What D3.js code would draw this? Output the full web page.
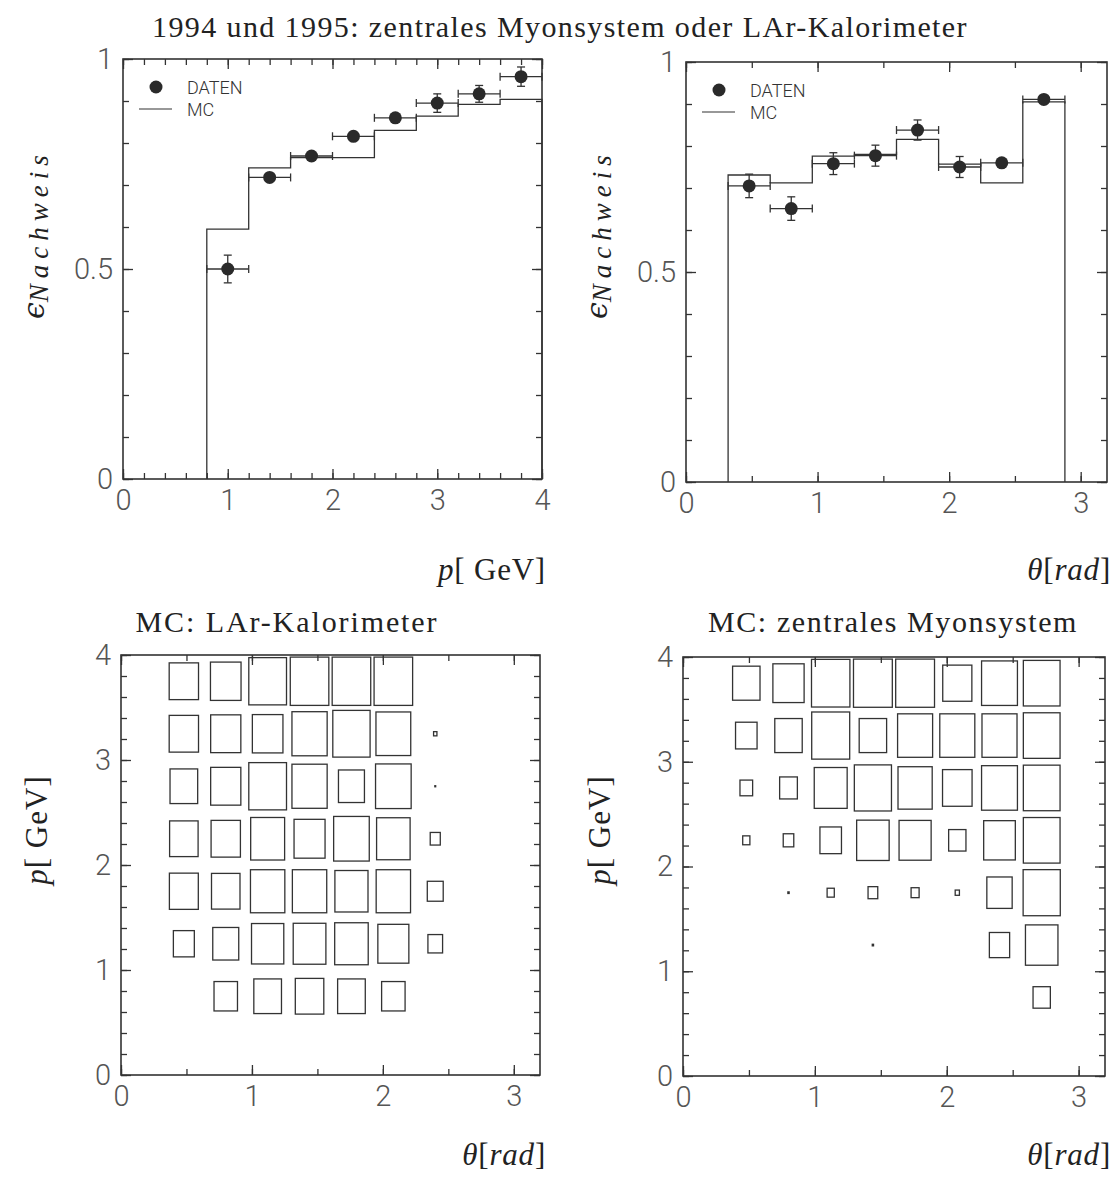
<!DOCTYPE html>
<html>
<head>
<meta charset="utf-8">
<script src="https://cdn.jsdelivr.net/npm/d3@7/dist/d3.min.js"></script>
<style>
body { margin: 0; background: #fff; }
svg { display: block; }
.serif { font-family: "Liberation Serif", "Times New Roman", serif; fill: #222; }
.tick text { font-family: Roboto, "Open Sans", sans-serif; font-weight: 300; font-size: 29px; fill: #555; }
.tick line { stroke: #333; stroke-width: 1.3; }
.legend { font-family: Roboto, "Open Sans", sans-serif; font-weight: 300; font-size: 18px; fill: #333; }
</style>
</head>
<body>
<svg width="1114" height="1181"></svg>
<script>
// efficiency vs momentum (top left)
const pBinEdges = [0.8, 1.2, 1.6, 2.0, 2.4, 2.8, 3.2, 3.6, 4.0];
const pDaten = [0.500, 0.718, 0.769, 0.816, 0.860, 0.895, 0.917, 0.958];
const pDatenErr = [0.033, 0.010, 0.008, 0.010, 0.010, 0.022, 0.020, 0.023];
const pMC = [0.595, 0.741, 0.765, 0.765, 0.830, 0.864, 0.892, 0.904];

// efficiency vs theta (top right)
const thetaBinEdges = [0.32, 0.64, 0.96, 1.28, 1.60, 1.92, 2.24, 2.56, 2.88];
const thetaDaten = [0.705, 0.651, 0.758, 0.777, 0.838, 0.750, 0.760, 0.911];
const thetaDatenErr = [0.028, 0.028, 0.026, 0.025, 0.024, 0.025, 0.010, 0.008];
const thetaMC = [0.731, 0.712, 0.776, 0.780, 0.816, 0.757, 0.712, 0.905];

// MC box plots: rows = p bins (0.5-1.0 ... 3.5-4.0), cols = theta bins, value = relative box size
const pRowEdges = [0.5, 1.0, 1.5, 2.0, 2.5, 3.0, 3.5, 4.0];
const larBoxes = [
  [0, 0.56, 0.66, 0.68, 0.66, 0.56, 0, 0],
  [0.50, 0.62, 0.77, 0.78, 0.80, 0.74, 0.35, 0],
  [0.69, 0.68, 0.82, 0.82, 0.79, 0.82, 0.38, 0],
  [0.68, 0.70, 0.81, 0.74, 0.85, 0.80, 0.24, 0],
  [0.66, 0.72, 0.90, 0.84, 0.62, 0.85, 0.02, 0],
  [0.70, 0.72, 0.73, 0.84, 0.89, 0.83, 0.08, 0],
  [0.70, 0.73, 0.90, 0.92, 0.92, 0.92, 0, 0]
];
const myonBoxes = [
  [0, 0, 0, 0, 0, 0, 0, 0.41],
  [0, 0, 0, 0.03, 0, 0, 0.48, 0.77],
  [0, 0.03, 0.17, 0.23, 0.19, 0.10, 0.60, 0.88],
  [0.17, 0.25, 0.51, 0.77, 0.76, 0.41, 0.75, 0.87],
  [0.30, 0.42, 0.78, 0.88, 0.81, 0.70, 0.85, 0.87],
  [0.51, 0.65, 0.90, 0.65, 0.83, 0.83, 0.83, 0.87],
  [0.65, 0.74, 0.91, 0.92, 0.92, 0.69, 0.85, 0.87]
];

const svg = d3.select("svg");

function fmt(d) { return String(d); }

function makePanel(o) { // builds scales, inward ticks on all four sides and the frame
  let x = d3.scaleLinear().domain([0, o.xMax]).range([o.left, o.left + o.w]);
  let y = d3.scaleLinear().domain([0, o.yMax]).range([o.top + o.h, o.top]);
  let g = svg.append("g");
  let xMinor = d3.range(0, o.xMax + 1e-6, o.xStep);
  let yMinor = d3.range(0, o.yMax + 1e-6, o.yStep);
  let ax = [
    [d3.axisBottom(x), "translate(0," + y(0) + ")", xMinor, o.xMajor, true],
    [d3.axisTop(x), "translate(0," + y(o.yMax) + ")", xMinor, o.xMajor, false],
    [d3.axisLeft(y), "translate(" + x(0) + ",0)", yMinor, o.yMajor, true],
    [d3.axisRight(y), "translate(" + x(o.xMax) + ",0)", yMinor, o.yMajor, false]
  ];
  ax.forEach(a => {
    g.append("g").attr("transform", a[1])
      .call(a[0].tickValues(a[2]).tickSize(-6).tickSizeOuter(0).tickFormat(""));
    g.append("g").attr("transform", a[1])
      .call(a[0].tickValues(a[3]).tickSize(-10).tickSizeOuter(0).tickPadding(10).tickFormat(a[4] ? fmt : ""));
  });
  g.selectAll(".domain").remove();
  g.append("rect")
    .attr("x", x(0)).attr("y", y(o.yMax))
    .attr("width", x(o.xMax) - x(0)).attr("height", y(0) - y(o.yMax))
    .attr("fill", "none").attr("stroke", "#333").attr("stroke-width", 1.6);
  return {x: x, y: y, g: g};
}

function drawEfficiency(p, edges, daten, err, mc) {
  // MC histogram as a step line
  let pts = [[edges[0], 0]];
  mc.forEach((v, i) => { pts.push([edges[i], v]); pts.push([edges[i + 1], v]); });
  pts.push([edges[edges.length - 1], 0]);
  p.g.append("path")
    .attr("d", d3.line().x(d => p.x(d[0])).y(d => p.y(d[1]))(pts))
    .attr("fill", "none").attr("stroke", "#333").attr("stroke-width", 1.3);
  let r = 6.5;
  daten.forEach((v, i) => {
    let lo = p.x(edges[i]), hi = p.x(edges[i + 1]);
    let cx = p.x((edges[i] + edges[i + 1]) / 2), cy = p.y(v);
    let eg = p.g.append("g").attr("stroke", "#333").attr("stroke-width", 1.3);
    eg.append("line").attr("x1", lo).attr("x2", hi).attr("y1", cy).attr("y2", cy);
    eg.append("line").attr("x1", lo).attr("x2", lo).attr("y1", cy - 4).attr("y2", cy + 4);
    eg.append("line").attr("x1", hi).attr("x2", hi).attr("y1", cy - 4).attr("y2", cy + 4);
    let up = p.y(v + err[i]), dn = p.y(v - err[i]);
    if (cy - up > r + 1) { // only visible when it sticks out of the marker
      eg.append("line").attr("x1", cx).attr("x2", cx).attr("y1", up).attr("y2", dn);
      eg.append("line").attr("x1", cx - 4).attr("x2", cx + 4).attr("y1", up).attr("y2", up);
      eg.append("line").attr("x1", cx - 4).attr("x2", cx + 4).attr("y1", dn).attr("y2", dn);
    }
    p.g.append("circle").attr("cx", cx).attr("cy", cy).attr("r", r).attr("fill", "#2a2a2a");
  });
  // legend
  let lx = p.x.range()[0], ly = p.y.range()[1];
  p.g.append("circle").attr("cx", lx + 33).attr("cy", ly + 28).attr("r", r).attr("fill", "#2a2a2a");
  p.g.append("text").attr("class", "legend").attr("x", lx + 64).attr("y", ly + 35).text("DATEN");
  p.g.append("line").attr("x1", lx + 16).attr("x2", lx + 49).attr("y1", ly + 50).attr("y2", ly + 50)
    .attr("stroke", "#333").attr("stroke-width", 1.2);
  p.g.append("text").attr("class", "legend").attr("x", lx + 64).attr("y", ly + 57).text("MC");
}

function drawBoxes(p, matrix) {
  let cw = p.x(thetaBinEdges[1]) - p.x(thetaBinEdges[0]);
  let ch = p.y(pRowEdges[0]) - p.y(pRowEdges[1]);
  let size = d3.scaleLinear().domain([0, 1]).range([0, 1]);
  matrix.forEach((row, r) => {
    row.forEach((v, c) => {
      if (v <= 0) return;
      let cx = p.x((thetaBinEdges[c] + thetaBinEdges[c + 1]) / 2);
      let cy = p.y((pRowEdges[r] + pRowEdges[r + 1]) / 2);
      let w = size(v) * cw, h = size(v) * ch;
      p.g.append("rect").attr("x", cx - w / 2).attr("y", cy - h / 2)
        .attr("width", w).attr("height", h)
        .attr("fill", "none").attr("stroke", "#333").attr("stroke-width", 1.3);
    });
  });
}

// title
svg.append("text").attr("class", "serif").attr("x", 560).attr("y", 37)
  .attr("text-anchor", "middle").attr("font-size", 30).attr("letter-spacing", "1.4px")
  .text("1994 und 1995: zentrales Myonsystem oder LAr-Kalorimeter");

let tl = makePanel({left: 123, top: 59, w: 419, h: 420, xMax: 4, yMax: 1, xStep: 0.2, yStep: 0.1, xMajor: [0, 1, 2, 3, 4], yMajor: [0, 0.5, 1]});
drawEfficiency(tl, pBinEdges, pDaten, pDatenErr, pMC);
let tr = makePanel({left: 686, top: 62, w: 421, h: 420, xMax: 3.2, yMax: 1, xStep: 0.5, yStep: 0.1, xMajor: [0, 1, 2, 3], yMajor: [0, 0.5, 1]});
drawEfficiency(tr, thetaBinEdges, thetaDaten, thetaDatenErr, thetaMC);
let bl = makePanel({left: 121, top: 655, w: 419, h: 420, xMax: 3.2, yMax: 4, xStep: 0.5, yStep: 0.2, xMajor: [0, 1, 2, 3], yMajor: [0, 1, 2, 3, 4]});
drawBoxes(bl, larBoxes);
let br = makePanel({left: 683, top: 657, w: 422, h: 419, xMax: 3.2, yMax: 4, xStep: 0.5, yStep: 0.2, xMajor: [0, 1, 2, 3], yMajor: [0, 1, 2, 3, 4]});
drawBoxes(br, myonBoxes);

// subtitles of the lower panels
svg.append("text").attr("class", "serif").attr("x", 287).attr("y", 632).attr("text-anchor", "middle")
  .attr("font-size", 30).attr("letter-spacing", "1.9px").text("MC: LAr-Kalorimeter");
svg.append("text").attr("class", "serif").attr("x", 893).attr("y", 632).attr("text-anchor", "middle")
  .attr("font-size", 30).attr("letter-spacing", "1.6px").text("MC: zentrales Myonsystem");

// x axis labels
function xLabel(xr, yb, parts) {
  let t = svg.append("text").attr("class", "serif").attr("x", xr).attr("y", yb)
    .attr("text-anchor", "end").attr("font-size", 31).attr("letter-spacing", "0.8px");
  parts.forEach(pt => t.append("tspan").attr("font-style", pt[1] ? "italic" : "normal").text(pt[0]));
}
xLabel(546, 580, [["p", true], ["[ GeV]", false]]);
xLabel(1111, 580, [["θ", true], ["[", false], ["rad", true], ["]", false]]);
xLabel(546, 1165, [["θ", true], ["[", false], ["rad", true], ["]", false]]);
xLabel(1111, 1165, [["θ", true], ["[", false], ["rad", true], ["]", false]]);

// y axis labels, rotated
function effLabel(bx) {
  let t = svg.append("text").attr("class", "serif")
    .attr("transform", "translate(" + bx + ",319) rotate(-90)");
  t.append("tspan").attr("font-family", "DejaVu Serif").attr("font-style", "italic").attr("font-size", 30).text("ϵ");
  t.append("tspan").attr("font-style", "italic").attr("font-size", 27).attr("dy", 4)
    .attr("letter-spacing", "6px").text("Nachweis");
}
effLabel(44);
effLabel(607);
function pLabel(bx) {
  let t = svg.append("text").attr("class", "serif").attr("text-anchor", "middle")
    .attr("transform", "translate(" + bx + ",830) rotate(-90)").attr("font-size", 31).attr("letter-spacing", "1px");
  t.append("tspan").attr("font-style", "italic").text("p");
  t.append("tspan").text("[ GeV]");
}
pLabel(47);
pLabel(610);
</script>
</body>
</html>
